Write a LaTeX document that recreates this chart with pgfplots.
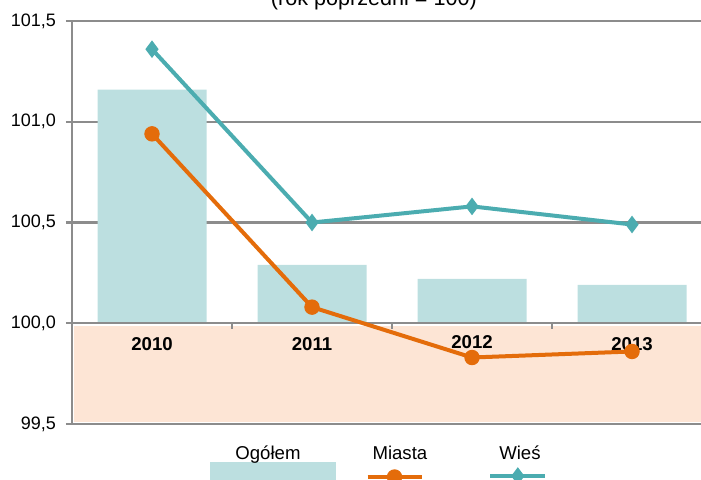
\documentclass[border=0pt]{standalone}
\usepackage{fontspec}
\setmainfont{Liberation Sans}
\usepackage{pgfplots}
\pgfplotsset{compat=1.18}
\definecolor{barc}{HTML}{BCDFE0}
\definecolor{peach}{HTML}{FDE5D5}
\definecolor{orng}{HTML}{E46C0A}
\definecolor{teal2}{HTML}{4BACB0}
\definecolor{gridc}{HTML}{8C8C8C}
\pgfplotsset{
  barleg/.style={legend image code/.code={\pgfinterruptboundingbox\fill[barc] (-12.5pt,-4pt) rectangle (50.5pt,-16pt);\endpgfinterruptboundingbox\path (0,0);}},
  mialeg/.style={legend image code/.code={\pgfinterruptboundingbox\draw[mark repeat=2, mark phase=2, ##1] plot coordinates {(-1.5pt,-11.5pt) (12pt,-11.5pt) (25.5pt,-11.5pt)};\endpgfinterruptboundingbox\path (0,0);}},
  wieleg/.style={legend image code/.code={\pgfinterruptboundingbox\draw[mark repeat=2, mark phase=2, ##1] plot coordinates {(-3.5pt,-11pt) (10.25pt,-11pt) (24pt,-11pt)};\endpgfinterruptboundingbox\path (0,0);}},
}
\begin{document}
\begin{tikzpicture}
\useasboundingbox (-36pt,-27.5pt) rectangle (314.5pt,212pt);
\begin{axis}[
  scale only axis, width=314.5pt, height=201.5pt,
  xmin=-0.5, xmax=3.431, ymin=99.5, ymax=101.5,
  clip mode=individual,
  axis x line=bottom, axis y line=left,
  axis line style={-},
  x axis line style={draw=none},
  y axis line style={draw=gridc, line width=1.2pt},
  ytick={99.5,100,100.5,101,101.5},
  /pgf/number format/assume math mode=true,
  yticklabel style={font=\fontsize{9}{10}\selectfont, xshift=-1.5pt,
    /pgf/number format/fixed, /pgf/number format/fixed zerofill,
    /pgf/number format/precision=1, /pgf/number format/use comma},
  ymajorgrids, grid style={draw=gridc, line width=1.2pt},
  tick align=outside, major tick length=3pt,
  ytick style={draw=gridc, line width=1.2pt},
  xtick=\empty,
  legend columns=-1,
  legend style={draw=none, fill=none, at={(0,0)}, anchor=west, xshift=81.5pt, yshift=-15pt,
    font=\fontsize{9.3}{11}\selectfont, inner xsep=0pt, inner ysep=0pt,
    nodes={inner sep=0pt},
    /tikz/every even column/.append style={column sep=34pt},
    /tikz/every odd column/.append style={column sep=0pt},
    /tikz/column 4/.append style={column sep=31pt}},
]
\addplot[ybar, bar width=54.5pt, fill=barc, draw=none, barleg]
  coordinates {(0,101.16) (1,100.29) (2,100.22) (3,100.19)};
\addlegendentry{Ogółem}
\addplot[fill=peach, draw=none, forget plot]
  coordinates {(-0.4875,99.5) (3.5,99.5) (3.5,99.985) (-0.4875,99.985)} -- cycle;
\addplot[fill=white, draw=none, forget plot]
  coordinates {(-0.49,99.985) (3.5,99.985) (3.5,100) (-0.49,100)} -- cycle;
\addplot[fill=white, draw=none, forget plot]
  coordinates {(-0.49,99.5) (3.5,99.5) (3.5,99.512) (-0.49,99.512)} -- cycle;
\addplot[gridc, line width=1.2pt, forget plot] coordinates {(-0.5,100) (3.5,100)};
\addplot[gridc, line width=1.2pt, forget plot] coordinates {(-0.5,99.5) (3.5,99.5)};
\draw[gridc, line width=1.2pt] (axis cs:0.5,100) -- ++(0pt,-3pt);
\draw[gridc, line width=1.2pt] (axis cs:1.5,100) -- ++(0pt,-3pt);
\draw[gridc, line width=1.2pt] (axis cs:2.5,100) -- ++(0pt,-3pt);
\node[font=\fontsize{9.3}{11}\selectfont\bfseries, anchor=north, inner sep=0pt, yshift=-7pt] at (axis cs:0,100) {2010};
\node[font=\fontsize{9.3}{11}\selectfont\bfseries, anchor=north, inner sep=0pt, yshift=-7pt] at (axis cs:1,100) {2011};
\node[font=\fontsize{9.3}{11}\selectfont\bfseries, anchor=north, inner sep=0pt, yshift=-6pt] at (axis cs:2,100) {2012};
\node[font=\fontsize{9.3}{11}\selectfont\bfseries, anchor=north, inner sep=0pt, yshift=-7pt] at (axis cs:3,100) {2013};
\addplot[orng, line width=2pt, mark=*, mark size=3.6pt, mark options={fill=orng, draw=orng, line width=0.5pt}, mialeg]
  coordinates {(0,100.94) (1,100.08) (2,99.83) (3,99.86)};
\addlegendentry{Miasta}
\addplot[teal2, line width=2pt, mark=diamond*, mark size=4pt, mark options={fill=teal2, draw=teal2, line width=0.5pt}, wieleg]
  coordinates {(0,101.36) (1,100.50) (2,100.58) (3,100.49)};
\addlegendentry{Wieś}
\node[anchor=base, font=\fontsize{10.8}{12}\selectfont] at (axis description cs:0.48,1.0397) {(rok poprzedni = 100)};
\end{axis}
\end{tikzpicture}
\end{document}
